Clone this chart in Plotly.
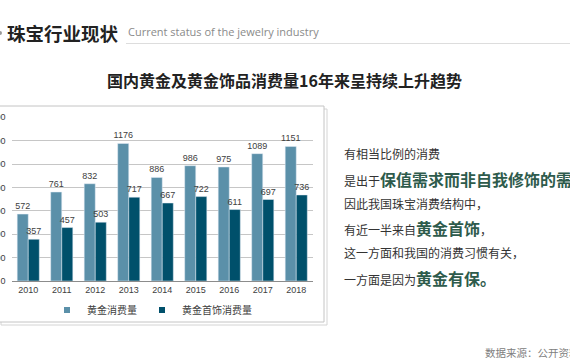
import plotly.graph_objects as go

W, H = 570, 360

years = ["2010", "2011", "2012", "2013", "2014", "2015", "2016", "2017", "2018"]
gold_total = [572, 761, 832, 1176, 886, 986, 975, 1089, 1151]
gold_jewelry = [357, 457, 503, 717, 667, 722, 611, 697, 736]
series_names = ["黄金消费量", "黄金首饰消费量"]
y_ticks = [0, 200, 400, 600, 800, 1000, 1200, 1400]

LIGHT = "#5B90A9"
DARK = "#00506B"
GREEN = "#2E5B4C"
CJK = "Noto Sans CJK SC"
NUM = "Liberation Sans, Noto Sans CJK SC"


def px(x):
    return x / W


def py(y):
    return 1 - y / H


fig = go.Figure()
for vals, color, name in [(gold_total, LIGHT, series_names[0]), (gold_jewelry, DARK, series_names[1])]:
    fig.add_trace(go.Bar(
        x=years, y=vals, name=name, marker_color=color, showlegend=False,
        text=vals, textposition="outside", cliponaxis=False, constraintext="none",
        textfont=dict(size=9, color="#404040", family=NUM),
    ))
# legend entries with small square markers
for color, name in [(LIGHT, series_names[0]), (DARK, series_names[1])]:
    fig.add_trace(go.Scatter(
        x=[None], y=[None], mode="markers", name=name,
        marker=dict(symbol="square", size=6, color=color),
    ))

shapes = [
    dict(type="rect", xref="paper", yref="paper", x0=px(1), x1=px(327), y0=py(325), y1=py(109),
         line=dict(color="#d4d4d4", width=1), fillcolor="white", layer="below"),
    dict(type="rect", xref="paper", yref="paper", x0=px(-2), x1=px(324), y0=py(322), y1=py(106),
         line=dict(color="#c4c4c4", width=1), fillcolor="white", layer="below"),
    dict(type="line", xref="paper", yref="paper", x0=px(126), x1=px(570), y0=py(43.5), y1=py(43.5),
         line=dict(color="#dddddd", width=1)),
    dict(type="circle", xref="paper", yref="paper", x0=px(-2), x1=px(2), y0=py(35), y1=py(31),
         line=dict(width=0), fillcolor="#9a9a9a"),
]

annotations = [
    dict(text="<b>珠宝行业现状</b>", x=px(5), y=py(33), xanchor="left", yanchor="middle",
         font=dict(size=18.5, color="#222222", family=CJK)),
    dict(text="Current status of the jewelry industry", x=px(126), y=py(31), xanchor="left",
         yanchor="middle", font=dict(size=11, color="#8a8a8a", family="Open Sans")),
    dict(text="<b>国内黄金及黄金饰品消费量16年来呈持续上升趋势</b>", x=px(284.5), y=py(80),
         xanchor="center", yanchor="middle", font=dict(size=16, color="#222222", family=CJK)),
    dict(text="数据来源：公开资料", x=px(483), y=py(352), xanchor="left", yanchor="middle",
         font=dict(size=10.5, color="#808080", family=CJK)),
]

big = "<b><span style='font-size:16px;color:%s'>%%s</span></b>" % GREEN
lines = [
    (153, "有相当比例的消费"),
    (179, "是出于" + big % "保值需求而非自我修饰的需求，"),
    (203, "因此我国珠宝消费结构中，"),
    (228, "有近一半来自" + big % "黄金首饰" + "，"),
    (253, "这一方面和我国的消费习惯有关，"),
    (278, "一方面是因为" + big % "黄金有保。"),
]
for yy, t in lines:
    annotations.append(dict(text=t, x=px(342), y=py(yy), xanchor="left", yanchor="middle",
                            font=dict(size=12, color="#333333", family=CJK)))

for a in annotations:
    a.update(xref="paper", yref="paper", showarrow=False)

fig.update_layout(
    width=W, height=H,
    margin=dict(l=0, r=0, t=0, b=0),
    paper_bgcolor="white", plot_bgcolor="white",
    barmode="group", bargap=0.34, bargroupgap=0,
    showlegend=True,
    legend=dict(orientation="h", x=px(152), y=py(310), xanchor="center", yanchor="middle",
                font=dict(size=10, color="#404040", family=CJK), bgcolor="rgba(0,0,0,0)",
                itemwidth=30, tracegroupgap=0),
    xaxis=dict(domain=[px(11.5), px(313)], showline=True, linecolor="#8c8c8c", linewidth=1,
               ticks="", tickfont=dict(size=9, color="#404040", family=NUM), automargin=False,
               fixedrange=True),
    yaxis=dict(domain=[py(281), py(117.3)], range=[0, 1400], tickvals=y_ticks,
               showgrid=True, gridcolor="#c6c6c6", gridwidth=1, zeroline=False,
               ticks="", tickfont=dict(size=9, color="#404040", family=NUM),
               ticklabelstandoff=5, automargin=False, fixedrange=True),
    shapes=shapes,
    annotations=annotations,
)

fig.write_html("out.html", config={"displayModeBar": False},
               post_script="document.body.style.margin='0px';document.body.style.overflow='hidden';")
